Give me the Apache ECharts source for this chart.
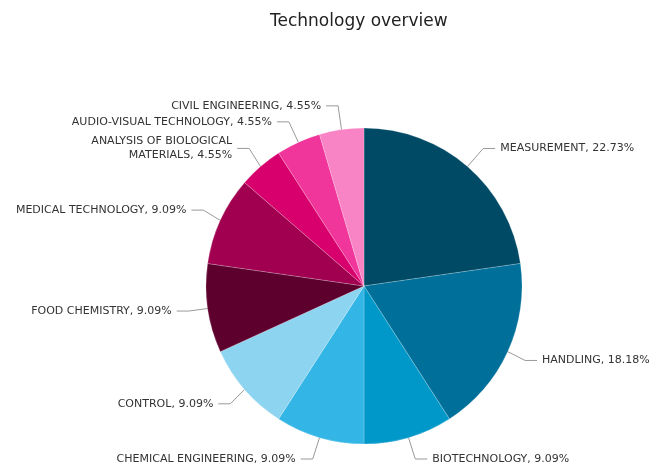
<!DOCTYPE html>
<html><head><meta charset="utf-8">
<script src="https://cdn.jsdelivr.net/npm/echarts@6/dist/echarts.min.js"></script>
<style>html,body{margin:0;padding:0;background:#fff}#c{width:653px;height:467px}</style>
</head><body><div id="c"></div>
<script>
const categories = ["MEASUREMENT","HANDLING","BIOTECHNOLOGY","CHEMICAL ENGINEERING","CONTROL","FOOD CHEMISTRY","MEDICAL TECHNOLOGY","ANALYSIS OF BIOLOGICAL MATERIALS","AUDIO-VISUAL TECHNOLOGY","CIVIL ENGINEERING"];
const values = [5,4,2,2,2,2,2,1,1,1];
const colors = ["#014a66","#00709a","#0098c8","#33b5e5","#8dd4f0","#5e002e","#a0004f","#d8006c","#f0369a","#f984c5"];
const total = values.reduce((a,b)=>a+b,0);
const chart = echarts.init(document.getElementById('c'));
chart.setOption({
  animation:false,
  title:{text:"Technology overview",left:265,top:8,textStyle:{fontFamily:'DejaVu Sans',fontSize:17,fontWeight:'normal',color:'#222'}},
  series:[{
    type:'pie',
    center:[364,286],
    radius:158,
    startAngle:90,
    clockwise:true,
    data:categories.map((n,i)=>({name:n,value:values[i],itemStyle:{color:colors[i]}})),
    itemStyle:{borderColor:'rgba(255,255,255,0.4)',borderWidth:0.5},
    label:{fontFamily:'DejaVu Sans',fontSize:11,color:'#333',overflow:'none',
      formatter:p=>{let n=p.name; if(n==="ANALYSIS OF BIOLOGICAL MATERIALS") n="ANALYSIS OF BIOLOGICAL\nMATERIALS"; return n+", "+(p.value/total*100).toFixed(2)+"%";},
      align:'right',lineHeight:14},
    labelLine:{length:24,length2:12,lineStyle:{color:'#999',width:1}}
  }]
});
</script></body></html>
